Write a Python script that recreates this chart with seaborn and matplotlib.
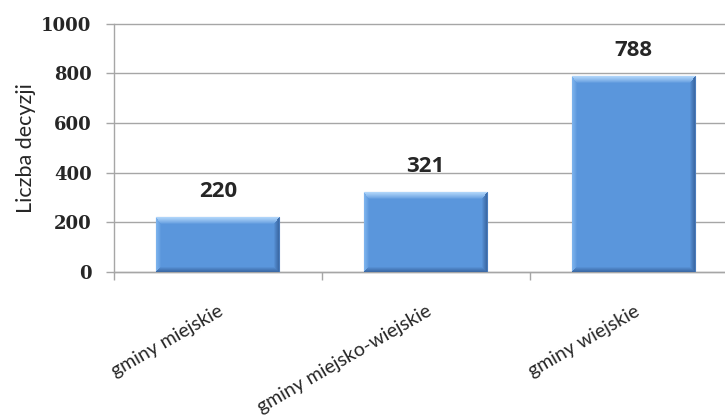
import numpy as np
import pandas as pd
import matplotlib.pyplot as plt
import seaborn as sns
from matplotlib.colors import to_rgb

# --- data ---
categories = ['gminy miejskie', 'gminy miejsko-wiejskie', 'gminy wiejskie']
decisions = [220, 321, 788]
y_ticks = [0, 200, 400, 600, 800, 1000]

df = pd.DataFrame({'Typ': categories, 'Liczba': decisions})

sns.set_style('white')
plt.rcParams['font.family'] = ['Lato', 'DejaVu Sans']

fig = plt.figure(figsize=(7.25, 4.19), dpi=100)
ax = fig.add_axes([0.157, 0.351, 0.843, 0.592])

sns.barplot(data=df, x='Typ', y='Liczba', color='#5a96dc', width=0.59,
            edgecolor='#4a7cbc', linewidth=0.8, ax=ax, zorder=3)

ax.set_xlim(-0.5, 2.44)
ax.set_ylim(0, 1000)


def bevel_image(wp, hp):
    # mitered bevel: shade each pixel by its nearest edge
    base = np.array(to_rgb('#5a96dc'))
    edges = {
        'top': (7.0, np.array(to_rgb('#b4d8fb'))),
        'left': (5.0, np.array(to_rgb('#7fb5ee'))),
        'right': (5.0, np.array(to_rgb('#3b68a3'))),
        'bottom': (5.0, np.array(to_rgb('#3b68a3'))),
    }
    yy, xx = np.mgrid[0:hp, 0:wp] + 0.5
    d = {
        'top': yy / edges['top'][0],
        'bottom': (hp - yy) / edges['bottom'][0],
        'left': xx / edges['left'][0],
        'right': (wp - xx) / edges['right'][0],
    }
    keys = list(d)
    stack = np.stack([d[k] for k in keys])
    idx = stack.argmin(axis=0)
    dmin = stack.min(axis=0)
    img = np.tile(base, (hp, wp, 1))
    for i, k in enumerate(keys):
        m = (idx == i) & (dmin < 1)
        t = (1 - dmin[m])[:, None] ** 0.8
        img[m] = base * (1 - t) + edges[k][1] * t
    return img


for p in ax.patches:
    x0, y0 = p.get_x(), p.get_y()
    w, h = p.get_width(), p.get_height()
    (px0, py0), (px1, py1) = ax.transData.transform([(x0, y0), (x0 + w, y0 + h)])
    wp, hp = int(round(px1 - px0)), int(round(py1 - py0))
    ax.imshow(bevel_image(wp, hp), origin='upper',
              extent=[x0, x0 + w, y0, y0 + h], aspect='auto',
              interpolation='nearest', zorder=3.5)

ax.set_yticks(y_ticks)
ax.set_yticklabels([str(v) for v in y_ticks], family='DejaVu Serif',
                   fontweight='bold', fontsize=13)

ax.yaxis.grid(True, color='#a6a6a6', linewidth=1)
for gl in ax.get_ygridlines():
    gl.set_clip_on(False)
ax.set_axisbelow(True)

for s in ['top', 'right']:
    ax.spines[s].set_visible(False)
for s in ['left', 'bottom']:
    ax.spines[s].set_color('#a6a6a6')
    ax.spines[s].set_linewidth(1)

ax.tick_params(axis='y', direction='out', length=6, width=1, color='#a6a6a6',
               pad=10, left=True)
ax.set_xticks([-0.5, 0.5, 1.5], minor=True)
ax.tick_params(axis='x', which='minor', direction='out', length=6, width=1,
               color='#a6a6a6', bottom=True)
ax.tick_params(axis='x', which='major', length=0, pad=22)
ax.set_xticks(range(len(categories)))
ax.set_xticklabels(categories, rotation=30, ha='right', rotation_mode='anchor',
                   fontsize=14)

ax.set_xlabel('')
ax.set_ylabel('Liczba decyzji', fontsize=15.5, labelpad=4)

for i, v in enumerate(decisions):
    ax.annotate(str(v), (i, v), xytext=(0, 26), textcoords='offset pixels',
                ha='center', va='center', fontsize=16, fontweight='bold',
                family=['Open Sans', 'DejaVu Sans'])

fig.savefig('out.png', dpi=100)
